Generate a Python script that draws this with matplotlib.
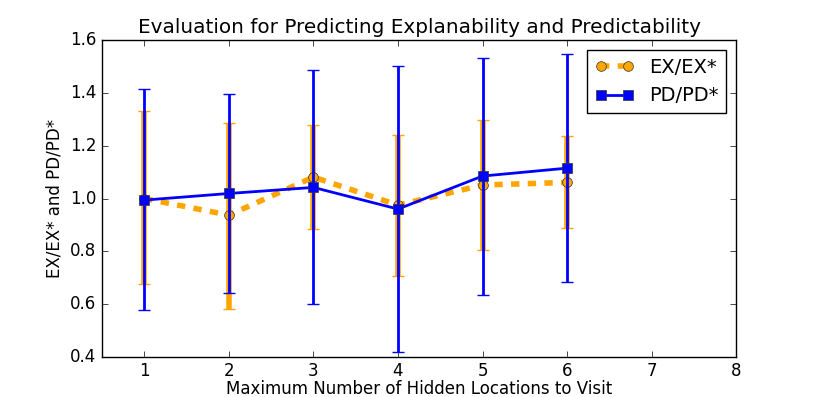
import numpy as np
import matplotlib
matplotlib.use("Agg")
import matplotlib.pyplot as plt

# --- Data ---
hidden_locs = [1, 2, 3, 4, 5, 6]

ex_mean = [1.00, 0.937, 1.081, 0.975, 1.051, 1.061]
ex_upper = [1.331, 1.285, 1.279, 1.239, 1.299, 1.235]
ex_lower = [0.675, 0.582, 0.883, 0.705, 0.804, 0.887]

pd_mean = [0.994, 1.019, 1.042, 0.960, 1.085, 1.115]
pd_upper = [1.413, 1.394, 1.485, 1.501, 1.534, 1.547]
pd_lower = [0.577, 0.641, 0.600, 0.418, 0.633, 0.683]


def main():
    plt.style.use("classic")
    plt.rcParams["figure.facecolor"] = "white"
    plt.rcParams["savefig.facecolor"] = "white"

    ex = np.array(ex_mean)
    pdv = np.array(pd_mean)
    ex_err = [ex - np.array(ex_lower), np.array(ex_upper) - ex]
    pd_err = [pdv - np.array(pd_lower), np.array(pd_upper) - pdv]

    fig = plt.figure(figsize=(8.17, 3.97), dpi=100)
    ax = fig.add_axes([0.125, 0.101, 0.776, 0.798])

    ex_c = ax.errorbar(hidden_locs, ex, yerr=ex_err, color="orange", ls="--", lw=4,
                       elinewidth=4, capsize=4, capthick=1, marker="o", ms=7,
                       mfc="orange", mec="#333333", zorder=2)
    pd_c = ax.errorbar(hidden_locs, pdv, yerr=pd_err, color="blue", ls="-", lw=2,
                       elinewidth=2, capsize=4, capthick=1, marker="s", ms=7,
                       mfc="blue", mec="#333333", zorder=3)

    ax.set_xlim(0.5, 8)
    ax.set_ylim(0.4, 1.6)
    ax.set_xticks(range(1, 9))
    ax.set_yticks(np.arange(0.4, 1.61, 0.2))
    ax.set_title("Evaluation for Predicting Explanability and Predictability", fontsize=14.4)
    ax.set_xlabel("Maximum Number of Hidden Locations to Visit", fontsize=12, labelpad=0)
    ax.set_ylabel("EX/EX* and PD/PD*", fontsize=12)
    ax.tick_params(labelsize=12)
    ax.legend([ex_c[0], pd_c[0]], ["EX/EX*", "PD/PD*"], loc="upper right",
              numpoints=2, fontsize=14)

    fig.savefig("out.png", dpi=100)
    plt.close(fig)


if __name__ == "__main__":
    main()
